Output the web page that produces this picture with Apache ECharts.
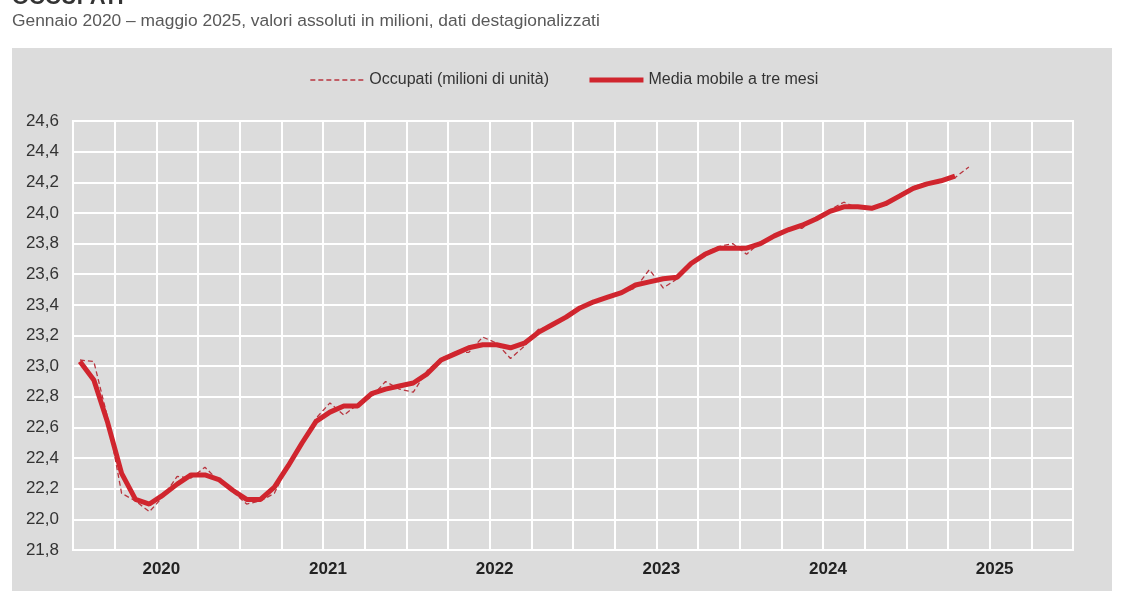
<!DOCTYPE html>
<html lang="it">
<head>
    <meta charset="UTF-8">
    <title>Occupati</title>
    <script src="https://cdn.jsdelivr.net/npm/echarts@6/dist/echarts.min.js"></script>
    <style type="text/css">
        *{
            margin: 0;
            padding: 0;
        }
        body{
            background: #fff;
        }
        #main{
            width: 1128px;
            height: 591px;
        }
    </style>
</head>
<body>
    <div id="main"></div>
</body>
<script>
    // mesi gen 2020 - dic 2025 (72 categorie, i dati si fermano a maggio 2025)
    var mesi = [];
    var anni = ['2020', '2021', '2022', '2023', '2024', '2025'];
    for (var a = 0; a < anni.length; a++) {
        for (var m = 1; m <= 12; m++) {
            mesi.push(anni[a] + '-' + (m < 10 ? '0' + m : m));
        }
    }

    // occupati, valori mensili (milioni)
    var occupati = [
        23.04, 23.03, 22.66, 22.17, 22.12, 22.05, 22.15, 22.28, 22.27, 22.34, 22.25, 22.18,
        22.10, 22.12, 22.17, 22.36, 22.50, 22.66, 22.76, 22.68, 22.75, 22.80, 22.90, 22.85,
        22.83, 22.97, 23.05, 23.09, 23.09, 23.19, 23.15, 23.05, 23.13, 23.24, 23.26, 23.33,
        23.38, 23.42, 23.45, 23.48, 23.51, 23.63, 23.51, 23.57, 23.67, 23.74, 23.78, 23.80,
        23.73, 23.81, 23.85, 23.90, 23.90, 23.97, 24.02, 24.07, 24.03, 24.03, 24.06, 24.12,
        24.17, 24.20, 24.21, 24.23, 24.30
    ];

    // media mobile a tre mesi (centrata, manca l'ultimo mese)
    var mediaMobile = [
        23.03, 22.91, 22.63, 22.30, 22.13, 22.10, 22.16, 22.23, 22.29, 22.29, 22.26, 22.19,
        22.13, 22.13, 22.21, 22.35, 22.50, 22.64, 22.70, 22.74, 22.74, 22.82, 22.85, 22.87,
        22.89, 22.95, 23.04, 23.08, 23.12, 23.14, 23.14, 23.12, 23.15, 23.22, 23.27, 23.32,
        23.38, 23.42, 23.45, 23.48, 23.53, 23.55, 23.57, 23.58, 23.67, 23.73, 23.77, 23.77,
        23.77, 23.80, 23.85, 23.89, 23.92, 23.96, 24.01, 24.04, 24.04, 24.03, 24.06, 24.11,
        24.16, 24.19, 24.21, 24.24, null
    ];

    var font = "'Liberation Sans Narrow', 'Arial Narrow', 'Liberation Sans', sans-serif";
    var rosso = '#d0252e';
    var rossoScuro = '#b8353f';

    var myChart = echarts.init(document.getElementById('main'));
    var option = {
        backgroundColor: '#fff',
        animation: false,
        graphic: [
            {
                type: 'rect',
                z: -10,
                shape: {x: 12, y: 48, width: 1100, height: 550},
                style: {fill: '#dcdcdc'}
            },
            {
                type: 'text',
                left: 12,
                top: -13,
                style: {
                    text: 'OCCUPATI',
                    fontFamily: font,
                    fontSize: 22,
                    fontWeight: 'bold',
                    fill: '#333'
                }
            },
            {
                type: 'text',
                left: 12,
                top: 13,
                style: {
                    text: 'Gennaio 2020 – maggio 2025, valori assoluti in milioni, dati destagionalizzati',
                    fontFamily: font,
                    fontSize: 17.4,
                    fill: '#595959'
                }
            }
        ],
        legend: {
            top: 67,
            left: 'center',
            itemWidth: 54,
            itemHeight: 14,
            itemGap: 38,
            itemStyle: {color: 'transparent', borderWidth: 0, opacity: 0},
            textStyle: {
                fontFamily: font,
                fontSize: 16,
                color: '#333'
            },
            data: [
                {name: 'Occupati (milioni di unità)', lineStyle: {width: 1.3, type: [5, 3], color: rossoScuro}},
                {name: 'Media mobile a tre mesi', lineStyle: {width: 5, color: rosso}}
            ]
        },
        grid: {
            left: 73,
            right: 55,
            top: 121,
            bottom: 41,
            show: true,
            backgroundColor: '#dcdcdc',
            borderColor: '#fff',
            borderWidth: 2
        },
        xAxis: [
            {
                type: 'category',
                data: mesi,
                boundaryGap: true,
                axisLine: {show: false},
                axisTick: {show: false},
                axisLabel: {show: false},
                splitLine: {
                    show: true,
                    interval: function (index) { return index % 3 === 0; },
                    lineStyle: {color: '#fff', width: 2}
                }
            },
            {
                type: 'category',
                data: anni,
                position: 'bottom',
                boundaryGap: true,
                axisLine: {show: false},
                axisTick: {show: false},
                splitLine: {show: false},
                axisLabel: {
                    margin: 11,
                    padding: [0, 0, 0, 10],
                    fontFamily: font,
                    fontSize: 17,
                    fontWeight: 'bold',
                    color: '#222'
                }
            }
        ],
        yAxis: {
            type: 'value',
            min: 21.8,
            max: 24.6,
            interval: 0.2,
            axisLine: {show: false},
            axisTick: {show: false},
            axisLabel: {
                margin: 14,
                fontFamily: font,
                fontSize: 17,
                color: '#333',
                formatter: function (v) { return v.toFixed(1).replace('.', ','); }
            },
            splitLine: {
                lineStyle: {color: '#fff', width: 2}
            }
        },
        series: [
            {
                name: 'Occupati (milioni di unità)',
                type: 'line',
                xAxisIndex: 0,
                data: occupati,
                symbol: 'none',
                lineStyle: {color: rossoScuro, width: 1.3, type: [5, 3]},
                itemStyle: {color: rossoScuro},
                z: 3
            },
            {
                name: 'Media mobile a tre mesi',
                type: 'line',
                xAxisIndex: 0,
                data: mediaMobile,
                symbol: 'none',
                lineStyle: {color: rosso, width: 5},
                itemStyle: {color: rosso},
                z: 4
            }
        ]
    };
    myChart.setOption(option);
</script>
</html>
